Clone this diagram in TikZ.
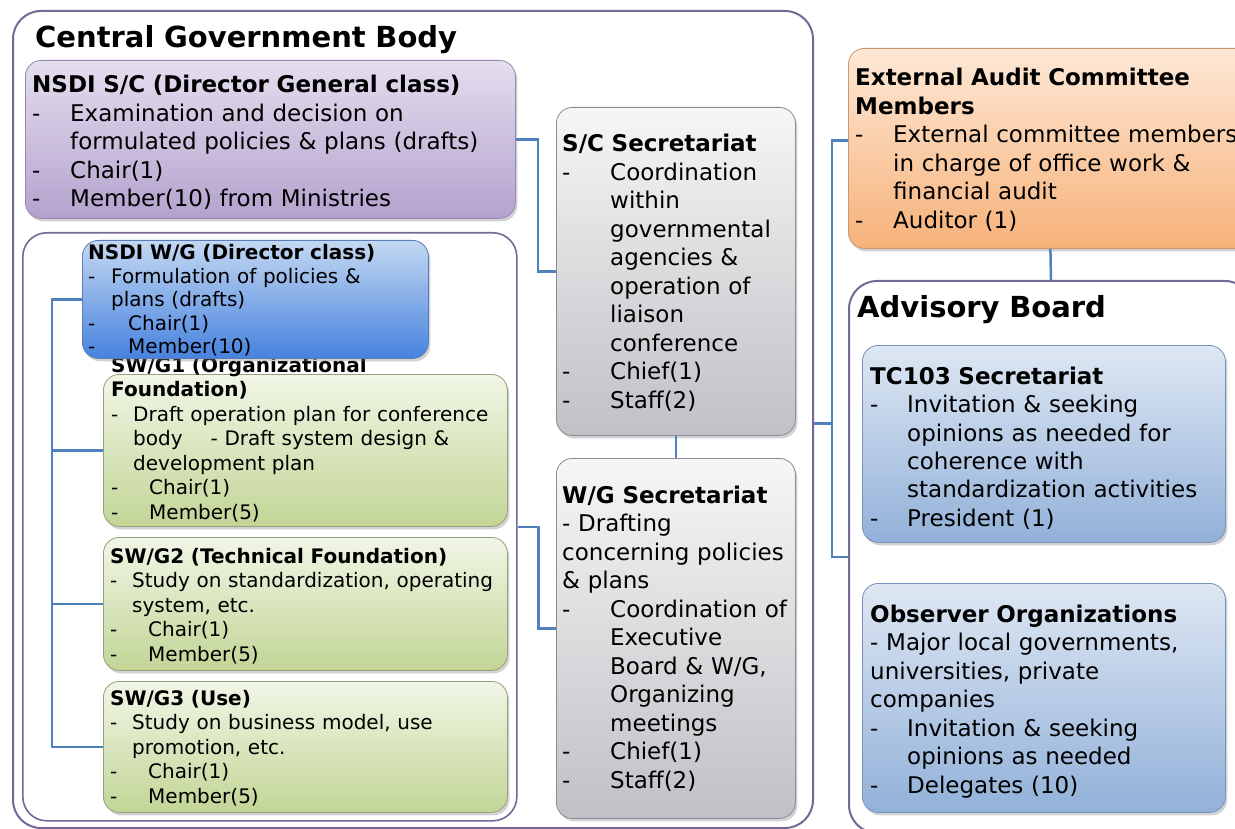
\documentclass[tikz,border=0pt]{standalone}
\usepackage{fontspec}
\setmainfont{DejaVu Sans}
\usetikzlibrary{shadows}
\definecolor{purpleTop}{RGB}{228,222,238}
\definecolor{purpleBot}{RGB}{180,162,206}
\definecolor{purpleEdge}{RGB}{150,136,176}
\definecolor{wgTop}{RGB}{196,216,242}
\definecolor{wgBot}{RGB}{70,130,222}
\definecolor{wgEdge}{RGB}{90,125,185}
\definecolor{greenTop}{RGB}{241,246,230}
\definecolor{greenBot}{RGB}{194,213,150}
\definecolor{greenEdge}{RGB}{150,160,125}
\definecolor{grayTop}{RGB}{246,246,246}
\definecolor{grayBot}{RGB}{192,192,198}
\definecolor{grayEdge}{RGB}{140,140,150}
\definecolor{orangeTop}{RGB}{253,232,214}
\definecolor{orangeBot}{RGB}{247,178,122}
\definecolor{orangeEdge}{RGB}{205,150,110}
\definecolor{blueTop}{RGB}{222,231,243}
\definecolor{blueBot}{RGB}{146,177,217}
\definecolor{blueEdge}{RGB}{120,145,185}
\definecolor{frameEdge}{RGB}{118,104,150}
\definecolor{linkBlue}{RGB}{79,129,189}
\newcommand{\dl}[1]{\makebox[#1][l]{-}}
\newcommand{\ind}[1]{\hspace*{#1}}

\begin{document}
\begin{tikzpicture}[x=1pt, y=-1pt,
		box/.style={draw, rounded corners=16pt, anchor=north west, inner sep=0pt, line width=0.8pt,
			drop shadow={opacity=0.35, shadow xshift=2pt, shadow yshift=-3pt}},
		purplebox/.style={box, draw=purpleEdge, top color=purpleTop, bottom color=purpleBot},
		wgbluebox/.style={box, draw=wgEdge, top color=wgTop, bottom color=wgBot},
		greenbox/.style={box, draw=greenEdge, top color=greenTop, bottom color=greenBot},
		graybox/.style={box, draw=grayEdge, top color=grayTop, bottom color=grayBot},
		orangebox/.style={box, draw=orangeEdge, top color=orangeTop, bottom color=orangeBot},
		bluebox/.style={box, draw=blueEdge, top color=blueTop, bottom color=blueBot},
		groupframe/.style={draw=frameEdge, line width=2pt, fill=white, rounded corners=28pt, anchor=north west, inner sep=0pt},
		txt/.style={anchor=base west, inner sep=0pt, align=left, text width=700pt,
			execute at begin node=\setlength{\parindent}{0pt}},
		big/.style={font=\fontsize{23}{28.5}\selectfont},
		small/.style={font=\fontsize{20}{24.5}\selectfont},
		link/.style={draw=linkBlue, line width=2.5pt}]
	\fill[white] (0,0) rectangle (1235,829);
	\useasboundingbox (0,0) rectangle (1235,829);
	
	%central government body
	\node[groupframe, minimum width=800pt, minimum height=817pt] (cgb) at (12,10) {};
	\node[txt, font=\fontsize{29}{34}\selectfont\bfseries] (cgbtitle) at (35,48) {Central Government Body};
	
	\node[purplebox, minimum width=490pt, minimum height=158pt] (sc) at (25,60) {};
	\node[txt, big] (sctxt) at (32,93) {\textbf{NSDI S/C (Director General class)}\\
		\dl{38pt}Examination and decision on\\
		\ind{38pt}formulated policies \& plans (drafts)\\
		\dl{38pt}Chair(1)\\
		\dl{38pt}Member(10) from Ministries};
	
	%working group
	\node[groupframe, line width=1.6pt, rounded corners=24pt, minimum width=494pt, minimum height=588pt] (wggrp) at (22,232) {};
	
	\node[greenbox, minimum width=404pt, minimum height=152pt] (g1) at (103,374) {};
	\node[txt, small] (g1txt) at (111,372) {\textbf{SW/G1 (Organizational}\\
		\textbf{Foundation)}\\
		\dl{22pt}Draft operation plan for conference\\
		\ind{22pt}body\hspace{1.4em}- Draft system design \&\\
		\ind{22pt}development plan\\
		\dl{38pt}Chair(1)\\
		\dl{38pt}Member(5)};
	
	\node[greenbox, minimum width=404pt, minimum height=133pt] (g2) at (103,537) {};
	\node[txt, small] (g2txt) at (110,563) {\textbf{SW/G2 (Technical Foundation)}\\
		\dl{22pt}Study on standardization, operating\\
		\ind{22pt}system, etc.\\
		\dl{38pt}Chair(1)\\
		\dl{38pt}Member(5)};
	
	\node[greenbox, minimum width=404pt, minimum height=131pt] (g3) at (103,681) {};
	\node[txt, small] (g3txt) at (110,705) {\textbf{SW/G3 (Use)}\\
		\dl{22pt}Study on business model, use\\
		\ind{22pt}promotion, etc.\\
		\dl{38pt}Chair(1)\\
		\dl{38pt}Member(5)};
	
	\node[wgbluebox, minimum width=346pt, minimum height=118pt] (wg) at (82,240) {};
	\node[txt, font=\fontsize{20}{23.5}\selectfont] (wgtxt) at (88,260) {\textbf{NSDI W/G (Director class)}\\
		\dl{23pt}Formulation of policies \&\\
		\ind{23pt}plans (drafts)\\
		\dl{40pt}Chair(1)\\
		\dl{40pt}Member(10)};
	
	%secretariats
	\node[graybox, minimum width=239pt, minimum height=328pt] (scsec) at (556,107) {};
	\node[txt, big] (scsectxt) at (562,152) {\textbf{S/C Secretariat}\\
		\dl{48pt}Coordination\\
		\ind{48pt}within\\
		\ind{48pt}governmental\\
		\ind{48pt}agencies \&\\
		\ind{48pt}operation of\\
		\ind{48pt}liaison\\
		\ind{48pt}conference\\
		\dl{48pt}Chief(1)\\
		\dl{48pt}Staff(2)};
	
	\node[graybox, minimum width=239pt, minimum height=360pt] (wgsec) at (556,458) {};
	\node[txt, big] (wgsectxt) at (562,503) {\textbf{W/G Secretariat}\\
		- Drafting\\
		concerning policies\\
		\& plans\\
		\dl{48pt}Coordination of\\
		\ind{48pt}Executive\\
		\ind{48pt}Board \& W/G,\\
		\ind{48pt}Organizing\\
		\ind{48pt}meetings\\
		\dl{48pt}Chief(1)\\
		\dl{48pt}Staff(2)};
	
	%audit and advisory board
	\node[orangebox, minimum width=404pt, minimum height=200pt] (audit) at (848,48) {};
	\node[txt, big] (audittxt) at (855,86) {\textbf{External Audit Committee}\\
		\textbf{Members}\\
		\dl{38pt}External committee members\\
		\ind{38pt}in charge of office work \&\\
		\ind{38pt}financial audit\\
		\dl{38pt}Auditor (1)};
	
	\node[groupframe, minimum width=404pt, minimum height=552pt] (adv) at (848,280) {};
	\node[txt, font=\fontsize{29}{34}\selectfont\bfseries] (advtitle) at (857,317) {Advisory Board};
	
	\node[bluebox, minimum width=363pt, minimum height=197pt] (tc) at (862,345) {};
	\node[txt, big] (tctxt) at (870,384) {\textbf{TC103 Secretariat}\\
		\dl{37pt}Invitation \& seeking\\
		\ind{37pt}opinions as needed for\\
		\ind{37pt}coherence with\\
		\ind{37pt}standardization activities\\
		\dl{37pt}President (1)};
	
	\node[bluebox, minimum width=363pt, minimum height=229pt] (obs) at (862,583) {};
	\node[txt, big] (obstxt) at (870,622) {\textbf{Observer Organizations}\\
		- Major local governments,\\
		universities, private\\
		companies\\
		\dl{37pt}Invitation \& seeking\\
		\ind{37pt}opinions as needed\\
		\dl{37pt}Delegates (10)};
	
	%connectors
	\coordinate (spine) at (52,0);
	\draw[link] (wg.west) -- (wg.west -| spine) -- (g3.west -| spine) -- (g3.west);
	\draw[link] (g1.west -| spine) -- (g1.west);
	\draw[link] (g2.west -| spine) -- (g2.west);
	\draw[link] (sc.east) -- ++(22,0) |- (scsec.west);
	\draw[link] (wggrp.east) -- ++(21,0) |- ([yshift=10pt]wgsec.west);
	\draw[link] (scsec.south) -- (wgsec.north);
	\draw[link] ([yshift=-4pt]cgb.east) -- ++(18,0) coordinate (hub);
	\draw[link] ([yshift=8pt]audit.west) -| (hub) |- (adv.west);
	\draw[link] (audit.south) -- (adv.north);
\end{tikzpicture}
\end{document}
